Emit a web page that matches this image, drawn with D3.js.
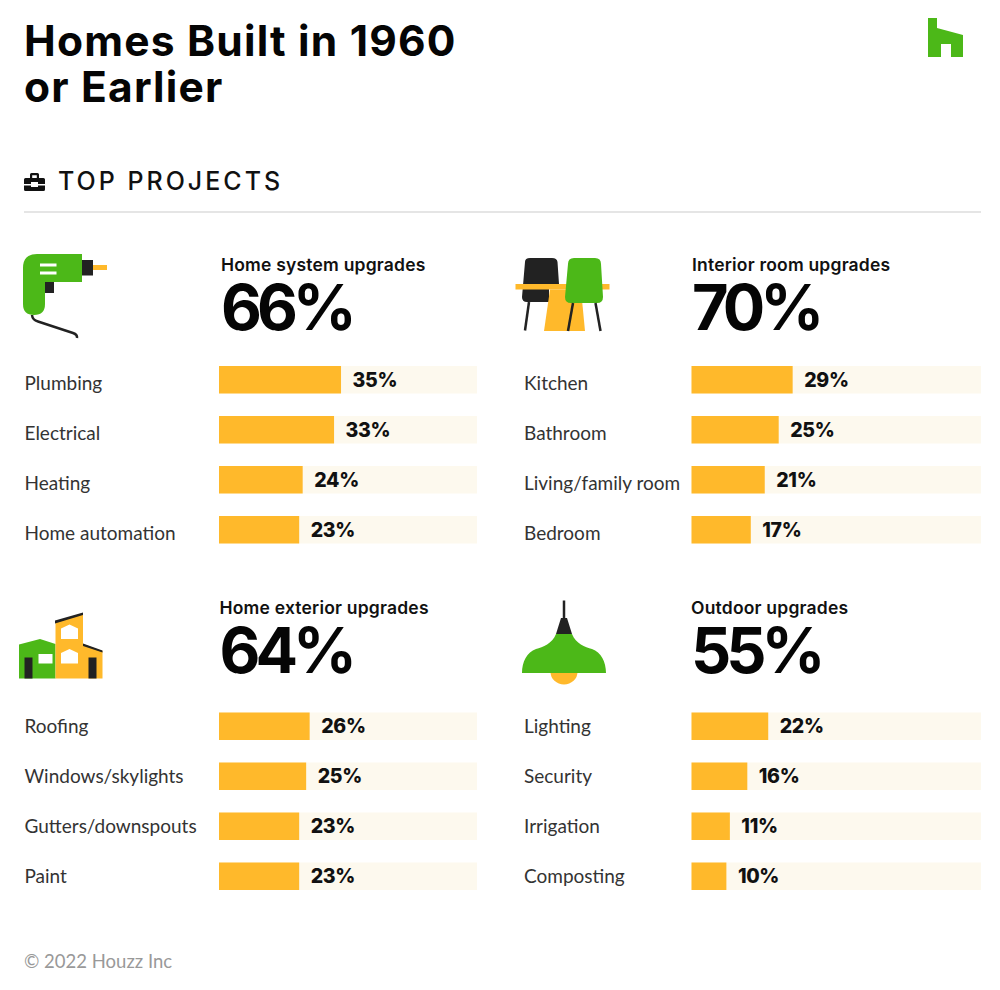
<!DOCTYPE html>
<html><head><meta charset="utf-8">
<script src="https://cdn.jsdelivr.net/npm/d3@7"></script>
<style>
html,body{margin:0;padding:0;background:#fff}
text{font-family:Lato,"Open Sans",sans-serif}
.hd{font-family:Inter,Lato,sans-serif}
</style></head><body>
<svg id="c" width="1000" height="990"></svg>
<script>
const titleLines = ["Homes Built in 1960", "or Earlier"];
const sectionTitle = "TOP PROJECTS";
const footer = "© 2022 Houzz Inc";
const panelNames = ["Home system upgrades", "Interior room upgrades", "Home exterior upgrades", "Outdoor upgrades"];
const panelTotals = [66, 70, 64, 55];
const systemCategories = ["Plumbing", "Electrical", "Heating", "Home automation"];
const systemValues = [35, 33, 24, 23];
const interiorCategories = ["Kitchen", "Bathroom", "Living/family room", "Bedroom"];
const interiorValues = [29, 25, 21, 17];
const exteriorCategories = ["Roofing", "Windows/skylights", "Gutters/downspouts", "Paint"];
const exteriorValues = [26, 25, 23, 23];
const outdoorCategories = ["Lighting", "Security", "Irrigation", "Composting"];
const outdoorValues = [22, 16, 11, 10];
const trackMax = [74, 83, 74, 83];

const C = {bar:"#ffb92b", track:"#fdf9ee", green:"#4cb818", dark:"#222222", ink:"#111111", label:"#333333"};
const svg = d3.select("#c");

const layout = [
  {labelX:24.5, headX:221, barX:219, barW:258, top:366, headY:270.5, bigY:330, labelDy:10.5, cats:systemCategories, vals:systemValues},
  {labelX:524, headX:692, barX:691.5, barW:289.5, top:366, headY:270.5, bigY:330, labelDy:10.5, cats:interiorCategories, vals:interiorValues},
  {labelX:24.5, headX:219.5, barX:219, barW:258, top:712.5, headY:613.5, bigY:673, labelDy:6.5, cats:exteriorCategories, vals:exteriorValues},
  {labelX:524, headX:691, barX:691.5, barW:289.5, top:712.5, headY:613.5, bigY:673, labelDy:6.5, cats:outdoorCategories, vals:outdoorValues}
];

svg.selectAll("text.title").data(titleLines).join("text").attr("class","title hd")
  .attr("x",24).attr("y",(d,i)=>55.5+i*46).attr("font-size",42.5).attr("font-weight",700).attr("letter-spacing",1.2).attr("fill","#050505").text(d=>d);

svg.append("text").attr("class","hd").attr("x",58).attr("y",190).attr("font-size",25).attr("font-weight",500)
  .attr("letter-spacing",3).attr("fill",C.ink).text(sectionTitle);
svg.append("line").attr("x1",24).attr("x2",981).attr("y1",212).attr("y2",212).attr("stroke","#dcdcdc").attr("stroke-width",1.5);
svg.append("text").attr("x",24).attr("y",968).attr("font-size",18.5).attr("fill","#999").text(footer);

layout.forEach((p,i)=>{
  const g = svg.append("g");
  const x = d3.scaleLinear().domain([0,trackMax[i]]).range([p.barX,p.barX+p.barW]);
  const y = d3.scaleBand().domain(p.cats).range([p.top,p.top+177.5]).paddingInner(0.45).paddingOuter(0);
  g.append("text").attr("class","hd").attr("x",p.headX).attr("y",p.headY).attr("font-size",17.5).attr("font-weight",600).attr("letter-spacing",0.2).attr("fill",C.ink).text(panelNames[i]);
  g.append("text").attr("class","hd").attr("x",p.headX).attr("y",p.bigY).attr("font-size",63).attr("font-weight",700).attr("letter-spacing",-5).attr("fill","#050505").text(panelTotals[i]+"%");
  const rows = g.selectAll("g").data(p.cats.map((c,j)=>({c,v:p.vals[j]}))).join("g");
  rows.append("rect").attr("x",p.barX).attr("y",d=>y(d.c)).attr("width",p.barW).attr("height",y.bandwidth()).attr("fill",C.track);
  rows.append("rect").attr("x",p.barX).attr("y",d=>y(d.c)).attr("width",d=>x(d.v)-p.barX).attr("height",y.bandwidth()).attr("fill",C.bar);
  rows.append("text").attr("x",p.labelX).attr("y",d=>y(d.c)+y.bandwidth()/2+p.labelDy).attr("font-size",19).attr("fill",C.label).text(d=>d.c);
  rows.append("text").attr("class","hd").attr("x",d=>x(d.v)+11.5).attr("y",d=>y(d.c)+y.bandwidth()/2+7).attr("font-size",19.5).attr("font-weight",800).attr("letter-spacing",-0.3).attr("fill",C.ink).text(d=>d.v+"%");
});

// logo
svg.append("path").attr("fill",C.green).attr("d","M928 18H937V28L963 35V57H951V44H941V57H928Z");
// toolbox icon
const tb = svg.append("g").attr("fill","#111");
tb.append("path").attr("d","M30 178V174.5Q30 173 31.5 173H37.5Q39 173 39 174.5V178H36.8V175.2H32.2V178Z");
tb.append("path").attr("d","M24 179.5Q24 178 25.5 178H43.5Q45 178 45 179.5V184H38V182H31V184H24Z");
tb.append("path").attr("d","M24 185.5H31V187H38V185.5H45V189.5Q45 191 43.5 191H25.5Q24 191 24 189.5Z");

// drill
const dr = svg.append("g");
dr.append("path").attr("fill","none").attr("stroke",C.dark).attr("stroke-width",2.5).attr("d","M32 315Q32.5 320 38 321.5L73 333Q77.5 334.5 77 338");
dr.append("rect").attr("x",93).attr("y",265).attr("width",14).attr("height",5).attr("fill",C.bar);
dr.append("rect").attr("x",82).attr("y",260).attr("width",11).attr("height",15.5).attr("fill",C.dark);
dr.append("rect").attr("x",45).attr("y",282).attr("width",9).attr("height",11).attr("fill",C.dark);
dr.append("path").attr("fill",C.green).attr("d","M82 254V282H45V304Q45 315 34 315Q23 315 23 304V268Q23 254 37 254Z");
dr.append("rect").attr("x",40).attr("y",263.5).attr("width",16.5).attr("height",3).attr("fill","#fff");
dr.append("rect").attr("x",40).attr("y",271.5).attr("width",16.5).attr("height",3).attr("fill","#fff");

// table + chairs
const ch = svg.append("g");
ch.append("path").attr("fill",C.dark).attr("d","M525 262Q525 258 530 258H552Q557 258 557.5 262L559 284H549L549 302H527Q522 302 522 297Z");
ch.append("line").attr("x1",529).attr("y1",302).attr("x2",525).attr("y2",330.5).attr("stroke",C.dark).attr("stroke-width",2.5);
ch.append("rect").attr("x",515.5).attr("y",284).attr("width",94).attr("height",5.5).attr("fill",C.bar);
ch.append("path").attr("fill",C.bar).attr("d","M550 289.5H581L585 331H544Z");
ch.append("path").attr("fill",C.green).attr("d","M568 264Q568 258 574 258H595Q601 258 601 264L603 297Q603 303 597 303H571Q565 303 565 297Z");
ch.append("line").attr("x1",573).attr("y1",303).attr("x2",568).attr("y2",331).attr("stroke",C.dark).attr("stroke-width",2.5);
ch.append("line").attr("x1",595.5).attr("y1",303).attr("x2",600.5).attr("y2",331).attr("stroke",C.dark).attr("stroke-width",2.5);

// houses
const h = svg.append("g");
h.append("path").attr("fill",C.green).attr("d","M19 644.5L40 639L55.5 644V678.5H19Z");
h.append("path").attr("fill",C.bar).attr("d","M55.5 622L83 613V644L102.5 651V678.5H55.5Z");
h.append("path").attr("fill",C.dark).attr("d","M55 620.5L83 612.5V615L55 623.5Z");
h.append("path").attr("fill",C.dark).attr("d","M83 643.5L102.5 650.5V652.5L83 646Z");
h.append("path").attr("fill","#fff").attr("d","M61 628.5L69.5 624.5L78 628.5V639H61Z");
h.append("path").attr("fill","#fff").attr("d","M61 653L69.5 649L78 653V663.5H61Z");
h.append("rect").attr("x",38.5).attr("y",654).attr("width",14).attr("height",9.5).attr("fill","#fff");
h.append("rect").attr("x",24.5).attr("y",657.5).attr("width",8).attr("height",21).attr("fill",C.dark);
h.append("rect").attr("x",88.5).attr("y",657.5).attr("width",8).attr("height",21).attr("fill",C.dark);

// lamp
const l = svg.append("g");
l.append("line").attr("x1",564).attr("x2",564).attr("y1",600.5).attr("y2",620).attr("stroke",C.dark).attr("stroke-width",2.5);
l.append("path").attr("fill",C.bar).attr("d","M550.5 672A13.5 12.5 0 0 0 577.5 672Z");
l.append("path").attr("fill",C.dark).attr("d","M561 618H567L572 634H556Z");
l.append("path").attr("fill",C.green).attr("d","M556 634H572C576 644 585 647 592 649C601 652 606 662 606 673H522C522 662 527 652 536 649C543 647 552 644 556 634Z");
</script>
</body></html>
